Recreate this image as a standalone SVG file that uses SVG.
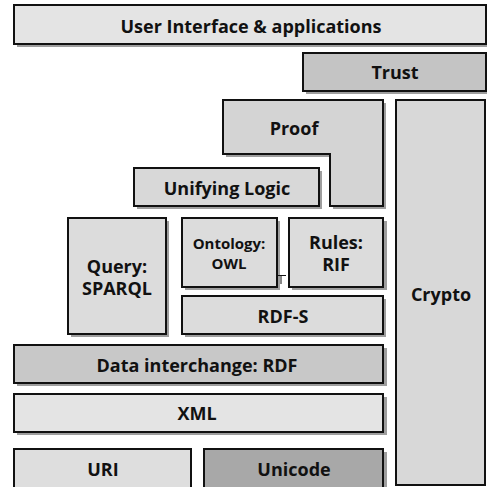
<svg xmlns="http://www.w3.org/2000/svg" width="487" height="487" viewBox="0 0 487 487">
  <style>
    .box { stroke: #111; stroke-width: 2; }
    .shadow { fill: #9e9e9e; }
    text { font-family: "Open Sans", "Noto Sans", "Liberation Sans", sans-serif; font-weight: bold; font-size: 18px; fill: #111; text-anchor: middle; }
    .small { font-size: 15px; }
  </style>
  <rect width="487" height="487" fill="#fff"/>

  <g id="ui">
    <rect class="shadow" x="17" y="8" width="472" height="39"/>
    <rect class="box" x="14" y="5" width="472" height="39" fill="#e4e4e4"/>
    <text x="251" y="33">User Interface &amp; applications</text>
  </g>

  <g id="trust">
    <rect class="shadow" x="306" y="56" width="184" height="38"/>
    <rect class="box" x="303" y="53" width="183" height="38" fill="#c4c4c4"/>
    <text x="395" y="79">Trust</text>
  </g>

  <g id="crypto">
    <rect class="box" x="396" y="100" width="89" height="385" fill="#d8d8d8"/>
    <text x="441" y="301">Crypto</text>
  </g>

  <g id="proof">
    <path class="shadow" d="M226 103 H386 V209 H333 V157 H226 Z"/>
    <path class="box" d="M223 100 H383 V206 H330 V154 H223 Z" fill="#d4d4d4"/>
    <text x="294" y="135">Proof</text>
  </g>

  <g id="logic">
    <rect class="shadow" x="137" y="171" width="185" height="38"/>
    <rect class="box" x="134" y="168" width="185" height="38" fill="#d8d8d8"/>
    <text x="227" y="195">Unifying Logic</text>
  </g>

  <g id="query">
    <rect class="shadow" x="71" y="221" width="98" height="116"/>
    <rect class="box" x="68" y="218" width="98" height="116" fill="#dcdcdc"/>
    <text x="117" y="273">Query:</text>
    <text x="117" y="295">SPARQL</text>
  </g>

  <g id="owl">
    <rect class="shadow" x="185" y="221" width="95" height="69"/>
    <rect class="box" x="182" y="218" width="95" height="69" fill="#dcdcdc"/>
    <text class="small" x="229" y="249">Ontology:</text>
    <text class="small" x="229" y="269">OWL</text>
  </g>

  <g id="rif">
    <rect class="shadow" x="292" y="221" width="95" height="69"/>
    <rect class="box" x="289" y="218" width="94" height="69" fill="#dcdcdc"/>
    <text x="336" y="249">Rules:</text>
    <text x="336" y="271">RIF</text>
  </g>

  <g id="connectors">
    <path d="M277 275.5 H286 M281 275.5 V284" stroke="#111" stroke-width="1" fill="none"/>
  </g>

  <g id="rdfs">
    <rect class="shadow" x="185" y="299" width="201" height="38"/>
    <rect class="box" x="182" y="296" width="201" height="38" fill="#dcdcdc"/>
    <text x="283" y="323">RDF-S</text>
  </g>

  <g id="rdf">
    <rect class="shadow" x="17" y="348" width="370" height="38"/>
    <rect class="box" x="14" y="345" width="369" height="38" fill="#c8c8c8"/>
    <text x="197" y="372">Data interchange: RDF</text>
  </g>

  <g id="xml">
    <rect class="shadow" x="17" y="397" width="370" height="38"/>
    <rect class="box" x="14" y="394" width="369" height="38" fill="#e4e4e4"/>
    <text x="197" y="420">XML</text>
  </g>

  <g id="uri">
    <rect class="box" x="14" y="449" width="177" height="40" fill="#dedede"/>
    <text x="103" y="476">URI</text>
  </g>

  <g id="unicode">
    <rect class="shadow" x="207" y="452" width="180" height="40"/>
    <rect class="box" x="204" y="449" width="179" height="40" fill="#a8a8a8"/>
    <text x="294" y="476">Unicode</text>
  </g>
</svg>
